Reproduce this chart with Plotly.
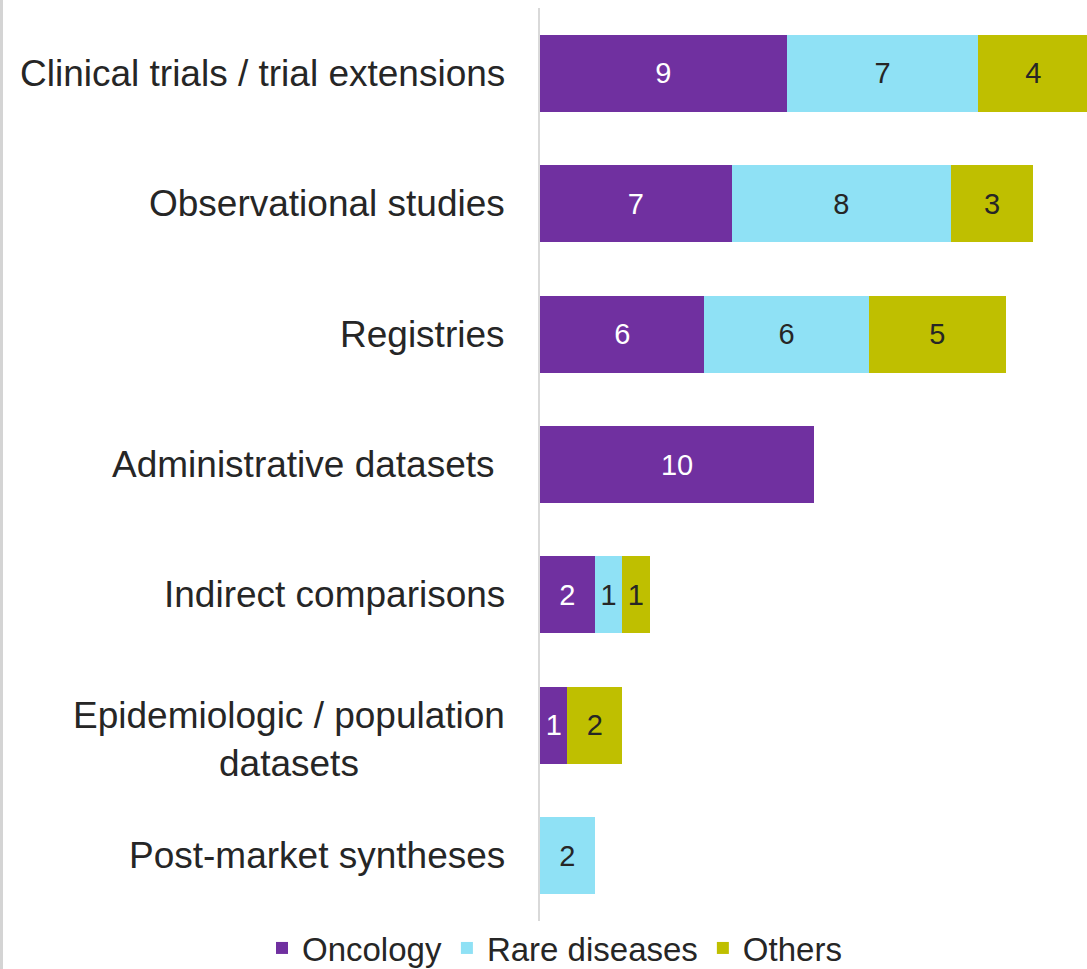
import plotly.graph_objects as go

# Evidence source categories (top to bottom)
categories = [
    "Clinical trials / trial extensions",
    "Observational studies",
    "Registries",
    "Administrative datasets\u00a0",
    "Indirect comparisons",
    "Epidemiologic / population<br>datasets",
    "Post-market syntheses",
]

# Counts per therapeutic area (None = no studies)
oncology = [9, 7, 6, 10, 2, 1, None]
rare_diseases = [7, 8, 6, None, 1, None, 2]
others = [4, 3, 5, None, 1, 2, None]

series = [
    ("Oncology", oncology, "#7030A0", "white"),
    ("Rare diseases", rare_diseases, "#8FE1F5", "#262626"),
    ("Others", others, "#BFBF00", "#262626"),
]

FONT = "Liberation Sans, Arial, sans-serif"
W, H = 1087, 969
L, R, T, B = 540, 0, 8, 48
PX_PER_UNIT = 27.4
PLOT_W = W - L - R
PLOT_H = H - T - B

fig = go.Figure()
for name, vals, color, txtcolor in series:
    fig.add_trace(go.Bar(
        name=name,
        y=categories,
        x=vals,
        orientation="h",
        width=0.59,
        marker=dict(color=color, line=dict(width=0)),
        text=[("" if v is None else str(v)) for v in vals],
        textposition="inside",
        insidetextanchor="middle",
        constraintext="none",
        textfont=dict(family=FONT, size=29, color=txtcolor),
        hoverinfo="skip",
    ))

# Category labels to the left of the axis
for cat in categories:
    multiline = "<br>" in cat
    fig.add_annotation(
        xref="paper", yref="y", x=0, y=cat,
        xanchor="right", yanchor="middle", xshift=-33,
        yshift=-14 if multiline else 0,
        text=cat, showarrow=False, align="center",
        font=dict(family=FONT, size=37, color="#262626"),
    )

# Thin frame line on the far left edge
fig.add_shape(
    type="line", xref="paper", yref="paper",
    x0=(1.5 - L) / PLOT_W, x1=(1.5 - L) / PLOT_W,
    y0=-B / PLOT_H, y1=1 + T / PLOT_H,
    line=dict(color="#D4D4D4", width=3),
)

fig.update_layout(
    width=W, height=H,
    margin=dict(l=L, r=R, t=T, b=B, pad=0, autoexpand=False),
    barmode="stack",
    plot_bgcolor="white",
    paper_bgcolor="white",
    font=dict(family=FONT, color="#262626"),
    showlegend=True,
    legend=dict(
        orientation="h",
        traceorder="normal",
        xref="paper", yref="paper",
        x=(262 - L) / PLOT_W, xanchor="left",
        y=-(948 - (H - B)) / PLOT_H, yanchor="middle",
        font=dict(family=FONT, size=33, color="#262626"),
        itemsizing="constant",
        bgcolor="rgba(0,0,0,0)",
    ),
    xaxis=dict(
        range=[0, PLOT_W / PX_PER_UNIT],
        visible=False, showgrid=False, zeroline=False,
    ),
    yaxis=dict(
        type="category",
        categoryorder="array", categoryarray=categories,
        autorange="reversed",
        showticklabels=False, ticks="",
        showgrid=False, zeroline=False,
        showline=True, linecolor="#D9D9D9", linewidth=2,
    ),
)

fig.write_html("out.html")
